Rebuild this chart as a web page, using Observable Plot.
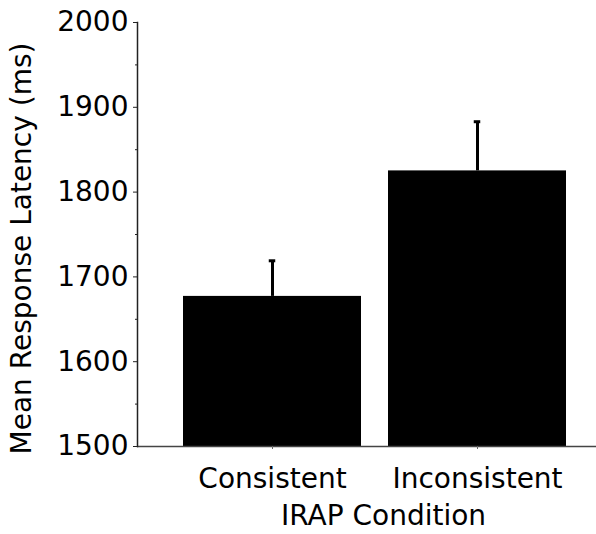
<!DOCTYPE html>
<html>
<head>
<meta charset="utf-8">
<script src="https://cdn.jsdelivr.net/npm/d3@7"></script>
<script src="https://cdn.jsdelivr.net/npm/@observablehq/plot@0.6"></script>
<style>
  html, body { margin: 0; padding: 0; background: #fff; }
  #chart svg { display: block; }
</style>
</head>
<body>
<div id="chart"></div>
<script>
const conditions = ["Consistent", "Inconsistent"];
const means = [1677, 1825];
const errors = [42, 58];
const yTicks = [1500, 1600, 1700, 1800, 1900, 2000];
const yMinorTicks = [1550, 1650, 1750, 1850, 1950];
const xLabel = "IRAP Condition";
const yLabel = "Mean Response Latency (ms)";

const data = conditions.map((c, i) => ({cond: c, mean: means[i], hi: means[i] + errors[i]}));
const font = "DejaVu Sans, sans-serif";

const chart = Plot.plot({
  width: 596,
  height: 534,
  marginLeft: 137,
  marginRight: 0,
  marginTop: 22,
  marginBottom: 88,
  style: {fontFamily: font, fontSize: "28px", color: "#000", background: "#fff"},
  x: {domain: conditions, range: [137, 613], paddingInner: 0.13, paddingOuter: 0.2256, axis: null},
  y: {domain: [1500, 2000], axis: null},
  marks: [
    Plot.barY(data, {x: "cond", y1: 1500, y2: "mean", fill: "#000"}),
    Plot.ruleX(data, {x: "cond", y1: "mean", y2: "hi", stroke: "#000", strokeWidth: 3}),
    Plot.tickY(data, {x: "cond", y: "hi", stroke: "#000", strokeWidth: 3, insetLeft: 85.75, insetRight: 85.75}),
    Plot.ruleY([1500], {stroke: "#444", strokeWidth: 1.5}),
    Plot.frame({anchor: "left", stroke: "#222", strokeWidth: 1.5}),
    Plot.axisY({ticks: yTicks, tickSize: 4, tickPadding: 5, tickFormat: d => String(d), label: null, fontSize: 28, stroke: "#222"}),
    Plot.axisY({ticks: yMinorTicks, tickSize: 2, tickFormat: () => "", label: null, stroke: "#222"}),
    Plot.axisX({tickSize: 3, tickPadding: 19, label: null, fontSize: 28, stroke: "#666"}),
    Plot.text([xLabel], {frameAnchor: "bottom", textAnchor: "middle", lineAnchor: "top", dx: 16.5, dy: 59, fontSize: 28, fill: "#000"}),
    Plot.text([yLabel], {frameAnchor: "left", textAnchor: "middle", lineAnchor: "middle", rotate: -90, dx: -115, dy: 14, fontSize: 28, fill: "#000"})
  ]
});
document.getElementById("chart").appendChild(chart);
</script>
</body>
</html>
